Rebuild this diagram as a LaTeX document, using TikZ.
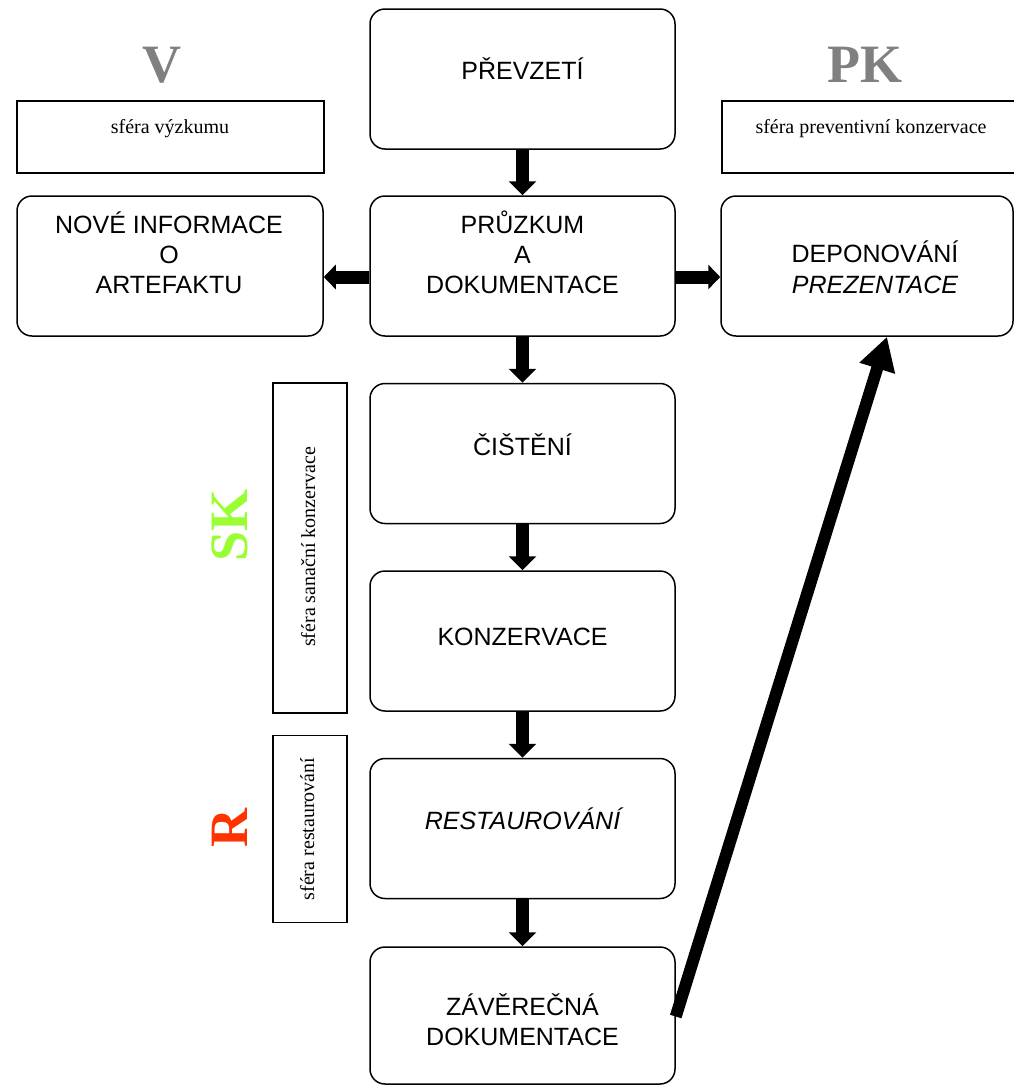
\documentclass[tikz,border=0pt]{standalone}
\usepackage{fontspec}
\setmainfont{Liberation Serif}
\newfontfamily\sansf{Liberation Sans}
\usetikzlibrary{arrows.meta}
\definecolor{biggray}{RGB}{128,128,128}
\definecolor{skgreen}{RGB}{153,255,51}
\definecolor{rred}{RGB}{255,51,0}
\tikzset{
  rbox/.style={draw=black, line width=1.5pt, rounded corners=15pt, minimum width=305pt, minimum height=140pt, inner sep=0pt},
  sbox/.style={draw=black, line width=1.6pt, inner sep=0pt},
  btxt/.style={font=\sansf\fontsize{25}{30}\selectfont, inner sep=0pt, anchor=base},
  itxt/.style={btxt, font=\sansf\itshape\fontsize{25}{30}\selectfont},
  stxt/.style={font=\fontsize{20}{24}\selectfont, inner sep=0pt, anchor=base},
  bigl/.style={font=\bfseries\fontsize{54}{60}\selectfont, inner sep=0pt, anchor=base},
  blkv/.style={line width=13pt, -{Triangle[length=14pt,width=27pt]}},
  blkh/.style={line width=13pt, -{Triangle[length=12pt,width=24pt]}},
  blkd/.style={line width=12pt, -{Triangle[length=33pt,width=35pt]}}
}
\begin{document}
\begin{tikzpicture}[x=1pt,y=-1pt]
\useasboundingbox (0,0) rectangle (1014,1085);
\fill[white] (0,0) rectangle (1014,1085);
% main column
\node[rbox] (prev) at (522.5,79) {};
\node[rbox] (pruz) at (522.5,266) {};
\node[rbox] (cist) at (522.5,453.5) {};
\node[rbox] (konz) at (522.5,641) {};
\node[rbox] (rest) at (522.5,828.5) {};
\node[rbox, minimum height=137pt] (zav) at (522.5,1015.5) {};
% side boxes
\node[rbox, minimum width=306pt] (nove) at (170,266) {};
\node[rbox, minimum width=292pt] (depo) at (867,266) {};
\node[sbox, minimum width=307pt, minimum height=72pt] (sv) at (170.5,137) {};
\node[sbox, minimum width=298pt, minimum height=72pt] (spk) at (871,137) {};
\node[sbox, minimum width=74pt, minimum height=330pt] (ssk) at (310,548) {};
\node[sbox, minimum width=74pt, minimum height=187pt] (sr) at (310,829) {};
% texts in main boxes
\node[btxt] (t1) at (522.5,79) {PŘEVZETÍ};
\node[btxt] (t2a) at (522.5,233) {PRŮZKUM};
\node[btxt] (t2b) at (522.5,263) {A};
\node[btxt] (t2c) at (522.5,293) {DOKUMENTACE};
\node[btxt] (t3) at (522.5,455) {ČIŠTĚNÍ};
\node[btxt] (t4) at (522.5,645) {KONZERVACE};
\node[itxt] (t5) at (522.5,829) {RESTAUROVÁNÍ};
\node[btxt] (t6a) at (522.5,1015) {ZÁVĚREČNÁ};
\node[btxt] (t6b) at (522.5,1045) {DOKUMENTACE};
\node[btxt] (t7a) at (169,233) {NOVÉ INFORMACE};
\node[btxt] (t7b) at (169,263) {O};
\node[btxt] (t7c) at (169,293) {ARTEFAKTU};
\node[btxt] (t8a) at (875,262) {DEPONOVÁNÍ};
\node[itxt] (t8b) at (875,293) {PREZENTACE};
% small labels
\node[stxt] (lsv) at (170,133) {sféra výzkumu};
\node[stxt] (lspk) at (871,133) {sféra preventivní konzervace};
\node[stxt, rotate=90] (lssk) at (315,547) {sféra sanační konzervace};
\node[stxt, rotate=90] (lsr) at (314,829) {sféra restaurování};
% big letters
\node[bigl, text=biggray] (bv) at (162,82) {V};
\node[bigl, text=biggray] (bpk) at (865,82) {PK};
\node[bigl, text=skgreen, rotate=90] (bsk) at (247,525) {SK};
\node[bigl, text=rred, rotate=90] (br) at (247,828) {R};
% arrows
\draw[blkv] (prev.south) -- (pruz.north);
\draw[blkv] (pruz.south) -- (cist.north);
\draw[blkv] (cist.south) -- (konz.north);
\draw[blkv] (konz.south) -- (rest.north);
\draw[blkv] (rest.south) -- (zav.north);
\draw[blkh] ([yshift=-11pt]pruz.west) -- ([yshift=-11pt]nove.east);
\draw[blkh] ([yshift=-11pt]pruz.east) -- ([yshift=-11pt]depo.west);
\draw[blkd] ([yshift=-1pt]zav.east) -- ([xshift=20pt]depo.south);
\end{tikzpicture}
\end{document}
